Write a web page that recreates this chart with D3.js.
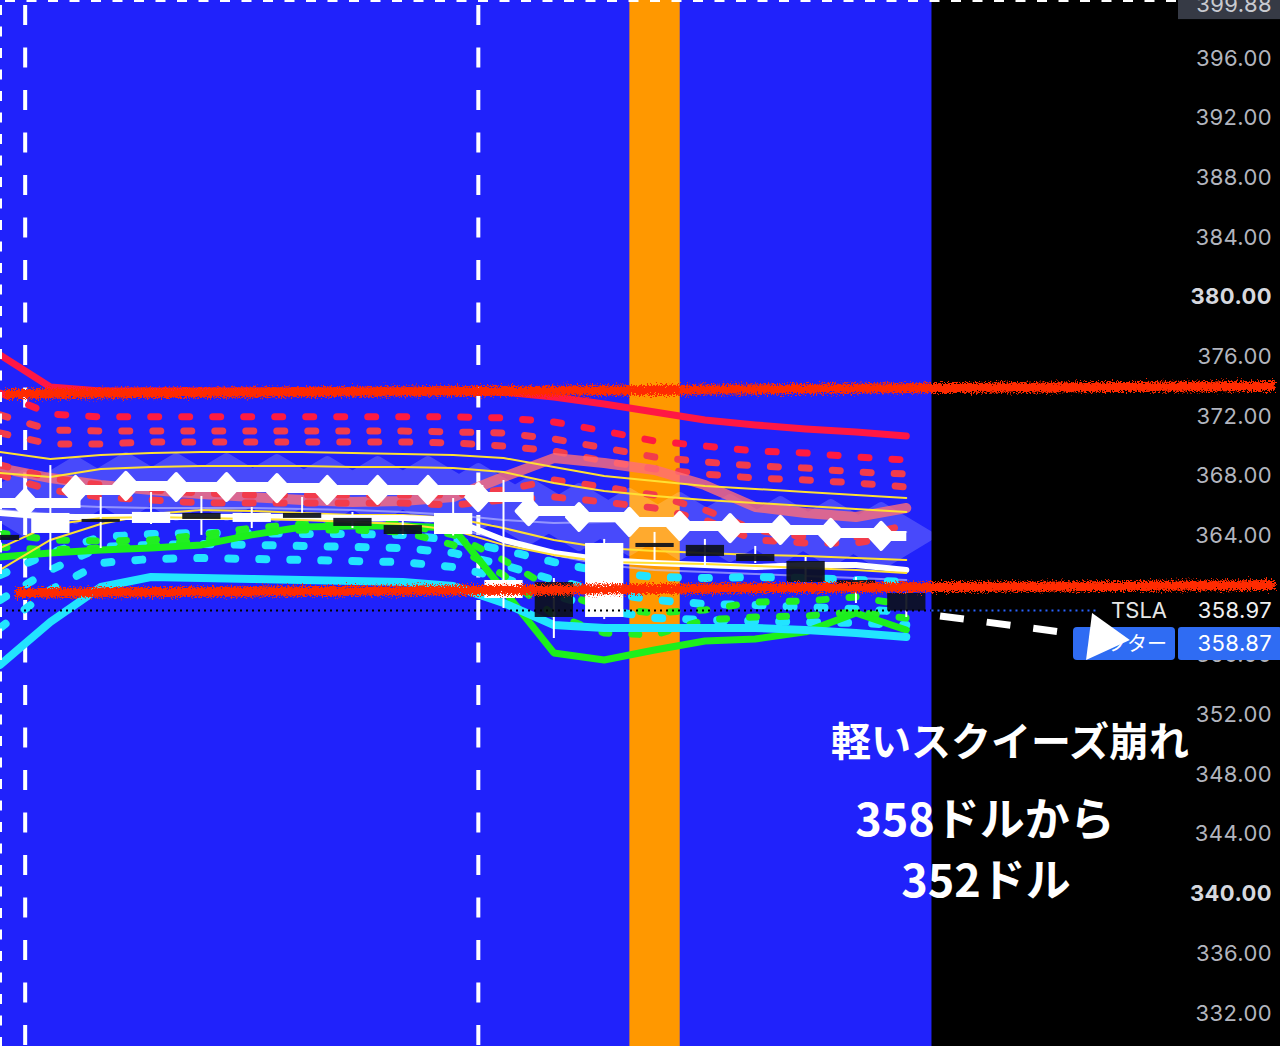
<!DOCTYPE html>
<html><head><meta charset="utf-8">
<script src="https://cdn.jsdelivr.net/npm/d3@7"></script>
<style>html,body{margin:0;padding:0;background:#000;overflow:hidden}</style>
</head><body>
<svg id="c" width="1280" height="1046"></svg>
<script>
// ---------------- DATA ----------------
// candle slots 0..18
const opens  = [364.04, 364.17, 365.11, 364.84, 365.51, 364.91, 365.51, 365.18, 364.70, 364.10, 359.81, 360.88, 358.54, 363.50, 363.37, 362.76, 362.29, 361.02, 360.15];
const closes = [363.70, 365.51, 364.98, 365.58, 365.11, 365.51, 365.18, 364.64, 364.10, 365.51, 361.02, 358.54, 363.50, 363.23, 362.63, 362.29, 360.88, 360.55, 358.97];
const highs  = [364.20, 368.72, 366.58, 366.92, 366.65, 365.91, 366.58, 365.58, 365.04, 366.51, 367.72, 361.15, 363.77, 364.24, 363.77, 363.30, 362.56, 361.22, 360.20];
const lows   = [363.50, 361.69, 363.16, 364.77, 364.04, 364.50, 365.10, 364.50, 364.05, 364.00, 359.14, 357.13, 358.40, 362.36, 362.02, 362.16, 360.80, 359.48, 358.54];

// indicator series (one value per candle slot)
const redSolid  = [376.10, 373.95, 373.68, 373.68, 373.68, 373.68, 373.68, 373.68, 373.68, 373.68, 373.62, 373.28, 372.81, 372.28, 371.74, 371.41, 371.14, 370.94, 370.67];
const redDot1   = [373.55, 372.14, 371.95, 371.95, 371.95, 371.95, 371.95, 371.95, 371.95, 371.95, 371.88, 371.61, 371.00, 370.33, 370.00, 369.66, 369.53, 369.26, 369.06];
const redDot2   = [372.08, 371.07, 371.00, 371.00, 371.00, 371.00, 371.00, 371.00, 371.00, 370.94, 370.87, 370.47, 369.87, 369.26, 368.93, 368.66, 368.52, 368.25, 368.12];
const redDot3   = [370.87, 370.13, 370.13, 370.27, 370.27, 370.27, 370.27, 370.27, 370.27, 370.20, 370.00, 369.66, 368.99, 368.46, 368.12, 367.85, 367.72, 367.52, 367.25];
const redDot4   = [368.73, 367.85, 367.38, 367.05, 366.85, 366.71, 366.71, 366.71, 366.71, 366.71, 367.05, 367.72, 367.25, 366.71, 365.71, 364.37, 363.90, 363.90, 364.70];
const redDot5   = [368.06, 367.05, 366.58, 366.38, 366.18, 366.18, 366.18, 366.18, 366.18, 366.04, 366.38, 366.58, 366.25, 365.84, 365.04, 363.70, 363.50, 363.50, 364.04];
const salmon    = [368.52, 367.85, 367.38, 367.05, 366.78, 366.58, 366.38, 366.25, 366.31, 366.58, 367.92, 369.19, 368.86, 368.39, 367.38, 365.91, 365.51, 365.24, 365.84];
const yellow1   = [369.60, 369.13, 369.40, 369.53, 369.60, 369.60, 369.60, 369.53, 369.46, 369.40, 369.19, 368.59, 367.99, 367.65, 367.32, 367.12, 366.92, 366.71, 366.51];
const yellow2   = [368.19, 367.92, 368.46, 368.59, 368.66, 368.66, 368.66, 368.59, 368.59, 368.52, 368.25, 367.52, 366.98, 366.65, 366.38, 366.18, 365.98, 365.78, 365.58];
const yellow3   = [361.69, 363.70, 364.77, 365.44, 365.71, 365.64, 365.51, 365.37, 365.37, 365.17, 364.50, 363.70, 363.16, 362.96, 362.83, 362.70, 362.63, 362.49, 362.36];
const yellow4   = [363.16, 364.70, 365.17, 365.24, 365.17, 365.11, 365.04, 364.91, 364.77, 364.37, 363.37, 362.70, 362.22, 362.16, 362.09, 361.96, 361.82, 361.69, 361.49];
const lavender1 = [366.38, 366.04, 365.91, 365.84, 365.84, 365.84, 365.78, 365.71, 365.58, 365.37, 365.04, 364.84, 364.91, 364.98, 364.70, 364.37, 364.24, 364.24, 364.24];
const lavender2 = [365.71, 365.44, 365.31, 365.24, 365.17, 365.11, 365.04, 364.98, 364.84, 364.50, 363.70, 362.70, 362.02, 361.69, 361.55, 361.42, 361.29, 361.15, 361.02];
const whiteLine = [365.51, 365.24, 365.24, 365.24, 365.24, 365.24, 365.24, 365.17, 365.17, 365.04, 363.70, 362.83, 362.36, 362.16, 362.02, 361.89, 362.02, 362.02, 361.69];
const cyanDot1  = [361.35, 362.83, 363.90, 364.10, 364.17, 364.17, 364.10, 364.10, 364.04, 363.70, 363.03, 362.22, 361.55, 361.22, 361.15, 361.22, 361.15, 361.02, 360.88];
const cyanDot2  = [359.68, 361.69, 363.23, 363.37, 363.43, 363.37, 363.30, 363.23, 363.16, 362.83, 362.02, 361.02, 360.21, 359.68, 359.41, 359.34, 359.21, 359.07, 358.87];
const cyanDot3  = [357.80, 360.35, 362.16, 362.43, 362.49, 362.43, 362.36, 362.29, 362.22, 361.89, 361.15, 360.01, 359.01, 358.47, 358.34, 358.27, 358.20, 358.14, 358.00];
const greenDot1 = [364.17, 363.70, 363.63, 363.70, 364.04, 364.50, 364.77, 364.84, 364.77, 364.04, 362.36, 360.35, 359.14, 358.81, 359.01, 359.54, 359.61, 359.88, 359.34];
const greenDot2 = [363.23, 363.03, 363.16, 363.30, 363.70, 364.17, 364.37, 364.37, 364.24, 363.37, 361.35, 358.67, 357.47, 357.33, 358.34, 358.54, 358.61, 358.87, 358.47];
const greenSolid= [362.56, 362.83, 363.03, 363.16, 363.37, 364.04, 364.57, 364.64, 364.64, 364.50, 360.35, 356.13, 355.66, 356.33, 356.93, 357.07, 357.54, 358.81, 357.67];
const cyanSolid = [355.32, 358.20, 360.55, 361.22, 361.15, 361.09, 361.02, 360.95, 360.88, 360.62, 359.48, 358.00, 357.80, 357.80, 357.80, 357.80, 357.67, 357.47, 357.20];
// diamond step line (points between candle slots)
const diamondVals = [366.18, 367.05, 367.32, 367.25, 367.25, 367.18, 367.05, 367.05, 367.05, 366.58, 365.64, 365.24, 364.91, 364.64, 364.50, 364.37, 364.17, 363.97];

// drawings
const trendLines = [ {x1: 0.1, p1: 373.48, x2: 25.32, p2: 374.02}, {x1: 0.3, p1: 360.15, x2: 25.32, p2: 360.68} ];
const sessionBreaks = [0.5, 9.5];
const highlightSlot = 13;
const lastPrice = 358.97;
const afterPrice = 358.87;
const topPrice = 399.88;
const tickValues = [396, 392, 388, 384, 380, 376, 372, 368, 364, 356, 352, 348, 344, 340, 336, 332];
const boldTicks = [380, 340];
const arrowLine = [[18.67, 358.61], [21.35, 357.41]];
const arrowHead = [[21.69, 358.81], [21.57, 355.66], [22.44, 357.00]];
const noteLines = ["軽いスクイーズ崩れ", "358ドルから", "352ドル"];

// ---------------- CHART ----------------
const W = 1280, H = 1046;
const x = d3.scaleLinear().domain([0, 18]).range([0, 906.3]);
const y = d3.scaleLinear().domain([332, 396]).range([1013, 58]);
const plotRight = x(18.5);
const slotW = x(1) - x(0);

const svg = d3.select('#c');
const defs = svg.append('defs');
const f = defs.append('filter').attr('id', 'rough').attr('filterUnits', 'userSpaceOnUse')
  .attr('x', 0).attr('y', 0).attr('width', W).attr('height', H);
f.append('feTurbulence').attr('type', 'fractalNoise').attr('baseFrequency', '0.8').attr('numOctaves', 2).attr('seed', 5).attr('result', 'noise');
f.append('feDisplacementMap').attr('in', 'SourceGraphic').attr('in2', 'noise').attr('scale', 11)
  .attr('xChannelSelector', 'R').attr('yChannelSelector', 'G');
defs.append('clipPath').attr('id', 'plotClip').append('rect')
  .attr('x', 0).attr('y', 0).attr('width', plotRight).attr('height', H);

svg.append('rect').attr('width', W).attr('height', H).attr('fill', '#000');
svg.append('rect').attr('width', plotRight).attr('height', H).attr('fill', '#2022fb');
svg.append('rect').attr('x', x(highlightSlot - 0.5)).attr('width', slotW).attr('y', 0).attr('height', H).attr('fill', '#ff9800');

const plot = svg.append('g').attr('clip-path', 'url(#plotClip)');

// session break dashed verticals
plot.selectAll('line.sb').data(sessionBreaks).join('line').attr('class', 'sb')
  .attr('x1', d => x(d)).attr('x2', d => x(d)).attr('y1', 0).attr('y2', H)
  .attr('stroke', '#fff').attr('stroke-width', 4).attr('stroke-dasharray', '20 22.5').attr('stroke-dashoffset', 37.5);

// translucent big diamonds
const bigG = plot.append('g').attr('opacity', 0.18);
bigG.selectAll('path').data(diamondVals).join('path')
  .attr('d', (d, k) => { const cx = x(k + 0.5), cy = y(d); return `M${cx},${cy - 30}L${cx + 50},${cy}L${cx},${cy + 30}L${cx - 50},${cy}Z`; })
  .attr('fill', '#fff').attr('stroke', '#fff').attr('stroke-width', 8).attr('stroke-linejoin', 'round');

const line = d3.line().x((d, i) => x(i)).y(d => y(d));
function drawSeries(data, opts) {
  plot.append('path').datum(data).attr('d', line).attr('fill', 'none')
    .attr('stroke', opts.color).attr('stroke-width', opts.width)
    .attr('stroke-linecap', 'round').attr('stroke-linejoin', 'round')
    .attr('stroke-dasharray', opts.dash || null).attr('opacity', opts.opacity || 1);
}
drawSeries(redDot1, {color: '#ff1a40', width: 7, dash: '8 23'});
drawSeries(redDot2, {color: '#f23c4c', width: 7, dash: '8 23'});
drawSeries(redDot3, {color: '#f23c4c', width: 7, dash: '8 23'});
drawSeries(redSolid, {color: '#ff1744', width: 7});
drawSeries(salmon, {color: '#ff6e78', width: 10, opacity: 0.8});
drawSeries(redDot4, {color: '#f23c4c', width: 7, dash: '8 23'});
drawSeries(redDot5, {color: '#f23c4c', width: 7, dash: '8 23'});
drawSeries(yellow1, {color: '#ffe033', width: 2});
drawSeries(yellow2, {color: '#ffe033', width: 2});
drawSeries(lavender1, {color: '#c8c8ff', width: 2, opacity: 0.6});
drawSeries(lavender2, {color: '#c8c8ff', width: 2, opacity: 0.6});
drawSeries(cyanDot1, {color: '#22e4ff', width: 8, dash: '7 24'});
drawSeries(cyanDot2, {color: '#22e4ff', width: 8, dash: '7 24'});
drawSeries(cyanDot3, {color: '#22e4ff', width: 8, dash: '7 24'});
drawSeries(greenDot1, {color: '#22ee22', width: 7, dash: '7 23'});
drawSeries(greenDot2, {color: '#22ee22', width: 7, dash: '7 23'});
drawSeries(greenSolid, {color: '#1cf01c', width: 7});
drawSeries(cyanSolid, {color: '#22e4ff', width: 8});
drawSeries(yellow3, {color: '#ffe033', width: 2});
drawSeries(whiteLine, {color: '#ffffff', width: 6});
drawSeries(yellow4, {color: '#ffe033', width: 2});

// candles
const candles = opens.map((o, i) => ({i, o, c: closes[i], h: highs[i], l: lows[i]}));
const bw = slotW * 0.76;
const cg = plot.append('g');
cg.selectAll('line').data(candles).join('line')
  .attr('x1', d => x(d.i)).attr('x2', d => x(d.i)).attr('y1', d => y(d.h)).attr('y2', d => y(d.l))
  .attr('stroke', '#fff').attr('stroke-width', 2);
cg.selectAll('rect').data(candles).join('rect')
  .attr('x', d => x(d.i) - bw / 2).attr('width', bw)
  .attr('y', d => y(Math.max(d.o, d.c))).attr('height', d => Math.max(3, Math.abs(y(d.o) - y(d.c))))
  .attr('fill', d => d.c >= d.o ? '#ffffff' : '#0c101c').attr('opacity', d => d.c >= d.o ? 1 : 0.92);

// diamond step line
const stepPts = [[0, diamondVals[0]], ...diamondVals.map((d, k) => [k + 0.5, d]), [18, diamondVals[diamondVals.length - 1]]];
plot.append('path').datum(stepPts)
  .attr('d', d3.line().x(d => x(d[0])).y(d => y(d[1])).curve(d3.curveStepAfter))
  .attr('fill', 'none').attr('stroke', '#fff').attr('stroke-width', 10);
plot.selectAll('path.dia').data(diamondVals).join('path').attr('class', 'dia')
  .attr('d', (d, k) => { const cx = x(k + 0.5), cy = y(d); return `M${cx},${cy - 13}L${cx + 12},${cy}L${cx},${cy + 13}L${cx - 12},${cy}Z`; })
  .attr('fill', '#fff').attr('stroke', '#fff').attr('stroke-width', 4).attr('stroke-linejoin', 'round');

// last price dotted line
svg.append('line').attr('x1', 0).attr('x2', plotRight).attr('y1', y(lastPrice)).attr('y2', y(lastPrice))
  .attr('stroke', '#000').attr('stroke-width', 2).attr('stroke-dasharray', '2 4');
svg.append('line').attr('x1', plotRight).attr('x2', 1097).attr('y1', y(lastPrice)).attr('y2', y(lastPrice))
  .attr('stroke', '#2962ff').attr('stroke-width', 2).attr('stroke-dasharray', '2 4');

// edge dashes
svg.append('line').attr('x1', 1).attr('x2', 1).attr('y1', 0).attr('y2', H)
  .attr('stroke', '#fff').attr('stroke-width', 2).attr('stroke-dasharray', '10 11.5').attr('stroke-dashoffset', 16.5);
svg.append('line').attr('x1', 0).attr('x2', 1176).attr('y1', 1).attr('y2', 1)
  .attr('stroke', '#fff').attr('stroke-width', 2).attr('stroke-dasharray', '10 11.5').attr('stroke-dashoffset', 16.5);

// axis
const axisG = svg.append('g').attr('transform', 'translate(1272,0)')
  .call(d3.axisLeft(y).tickValues(tickValues).tickSize(0).tickPadding(0).tickFormat(d3.format('.2f')));
axisG.select('.domain').remove();
axisG.selectAll('text').attr('font-family', 'Inter, "Noto Sans", sans-serif').attr('font-size', 22)
  .attr('letter-spacing', 0.4)
  .attr('fill', d => boldTicks.includes(d) ? '#d6d8de' : '#b2b5be')
  .attr('font-weight', d => boldTicks.includes(d) ? 700 : 400);

// trend lines (rough hand-drawn look)
svg.append('g').attr('filter', 'url(#rough)').selectAll('line').data(trendLines).join('line')
  .attr('x1', d => x(d.x1)).attr('y1', d => y(d.p1)).attr('x2', d => x(d.x2)).attr('y2', d => y(d.p2))
  .attr('stroke', '#ff2a00').attr('stroke-width', 10);

// top price label (cut by top edge, as in the reference)
svg.append('rect').attr('x', 1178).attr('y', y(topPrice) - 19).attr('width', 102).attr('height', 38).attr('fill', '#363a45');
svg.append('text').attr('x', 1272).attr('y', y(topPrice) + 4).attr('dy', '0.35em').attr('text-anchor', 'end')
  .attr('font-family', 'Inter, sans-serif').attr('font-size', 22).attr('letter-spacing', 0.4).attr('fill', '#c8cad0').text(topPrice.toFixed(2));

// TSLA label
const fy = y(lastPrice);
svg.append('text').attr('x', 1167).attr('y', fy).attr('dy', '0.35em').attr('text-anchor', 'end')
  .attr('font-family', 'Inter, sans-serif').attr('font-size', 22).attr('fill', '#e6e6e6').text('TSLA');
svg.append('text').attr('x', 1272).attr('y', fy).attr('dy', '0.35em').attr('text-anchor', 'end')
  .attr('font-family', 'Inter, sans-serif').attr('font-size', 22).attr('letter-spacing', 0.4).attr('fill', '#f0f0f0').text(lastPrice.toFixed(2));

// after-hours label (stacked under the last-price label)
const ay = fy + 33;
svg.append('rect').attr('x', 1073).attr('y', ay - 16.5).attr('width', 102).attr('height', 33).attr('rx', 4).attr('fill', '#2f6cf3');
svg.append('rect').attr('x', 1178).attr('y', ay - 16.5).attr('width', 104).attr('height', 33).attr('rx', 3).attr('fill', '#2f6cf3');
svg.append('text').attr('x', 1167).attr('y', ay).attr('dy', '0.35em').attr('text-anchor', 'end')
  .attr('font-family', '"Noto Sans CJK JP", sans-serif').attr('font-size', 20).attr('fill', '#fff').text('アフター');
svg.append('text').attr('x', 1272).attr('y', ay).attr('dy', '0.35em').attr('text-anchor', 'end')
  .attr('font-family', 'Inter, sans-serif').attr('font-size', 22).attr('letter-spacing', 0.4).attr('fill', '#fff').text(afterPrice.toFixed(2));

// arrow annotation
svg.append('line').attr('x1', x(arrowLine[0][0])).attr('y1', y(arrowLine[0][1]))
  .attr('x2', x(arrowLine[1][0])).attr('y2', y(arrowLine[1][1]))
  .attr('stroke', '#fff').attr('stroke-width', 7).attr('stroke-dasharray', '24 23');
svg.append('path').attr('d', 'M' + arrowHead.map(p => [x(p[0]), y(p[1])].join(',')).join('L') + 'Z').attr('fill', '#fff');

// note text
const noteG = svg.append('g').attr('font-family', '"Noto Sans CJK JP", sans-serif').attr('font-weight', 700)
  .attr('fill', '#fff').attr('text-anchor', 'middle');
noteG.append('text').attr('x', 1010).attr('y', 756).attr('font-size', 40).text(noteLines[0]);
noteG.append('text').attr('x', 985).attr('y', 836).attr('font-size', 45).text(noteLines[1]);
noteG.append('text').attr('x', 986).attr('y', 897).attr('font-size', 45).text(noteLines[2]);
</script>
</body></html>
